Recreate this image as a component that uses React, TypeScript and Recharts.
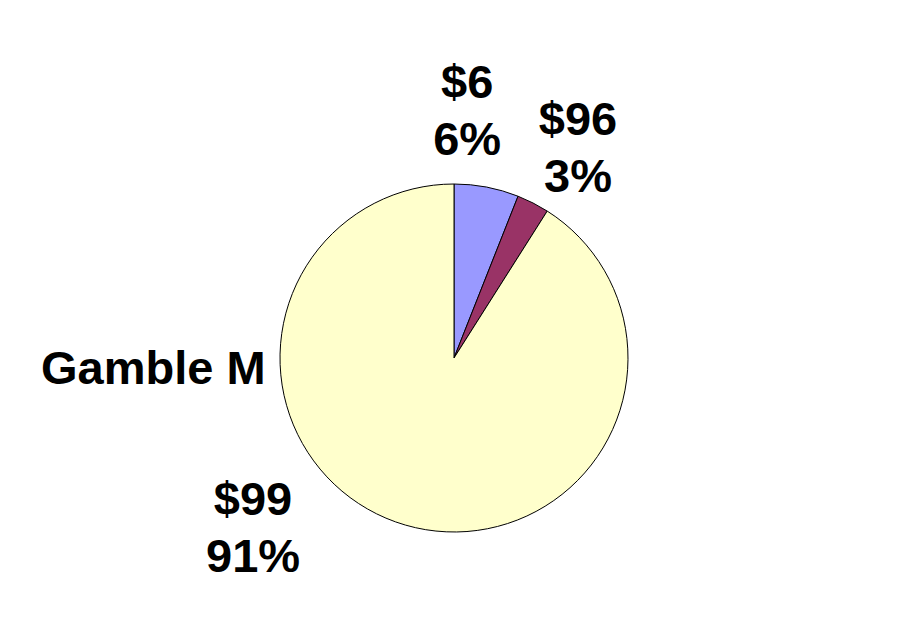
import { PieChart, Pie, Cell } from "recharts";

// slices, clockwise from 12 o'clock
const prizes = ["$6", "$96", "$99"];
const shares = [6, 3, 91];
const sliceColors = ["#9999FF", "#993366", "#FFFFCC"];

// where each label sits (angle in degrees, distance from centre), like Excel's best fit
const labelSpots = [
  { angle: 87.1, r: 260 },
  { angle: 60.9, r: 255 },
  { angle: 218, r: 255 },
];

const data = prizes.map((name, i) => ({ name, value: shares[i] }));

const RAD = Math.PI / 180;
const FONT = "'Liberation Sans', Arial, sans-serif";

function renderLabel(props: any) {
  const { cx, cy, index } = props;
  const spot = labelSpots[index];
  const x = cx + spot.r * Math.cos(-spot.angle * RAD);
  const y = cy + spot.r * Math.sin(-spot.angle * RAD);
  return (
    <text
      x={x}
      y={y}
      textAnchor="middle"
      fill="#000"
      fontFamily={FONT}
      fontWeight="bold"
      fontSize={47}
    >
      <tspan x={x} y={y}>{prizes[index]}</tspan>
      <tspan x={x} y={y + 57}>{`${shares[index]}%`}</tspan>
    </text>
  );
}

export default function App() {
  return (
    <div style={{ position: "relative", width: 910, height: 622, background: "#fff" }}>
      <style>{`body{margin:0}`}</style>
      <PieChart width={910} height={622} margin={{ top: 0, right: 0, bottom: 0, left: 0 }}>
        <Pie
          data={data}
          dataKey="value"
          cx={454}
          cy={358}
          outerRadius={174}
          startAngle={90}
          endAngle={-270}
          stroke="#000"
          strokeWidth={1}
          label={renderLabel}
          labelLine={false}
          isAnimationActive={false}
        >
          {data.map((d, i) => (
            <Cell key={d.name} fill={sliceColors[i]} />
          ))}
        </Pie>
      </PieChart>
      <div
        style={{
          position: "absolute",
          left: 41,
          top: 344,
          fontFamily: FONT,
          fontWeight: "bold",
          fontSize: 47,
          lineHeight: 1,
          whiteSpace: "nowrap",
          color: "#000",
        }}
      >
        Gamble M
      </div>
    </div>
  );
}
